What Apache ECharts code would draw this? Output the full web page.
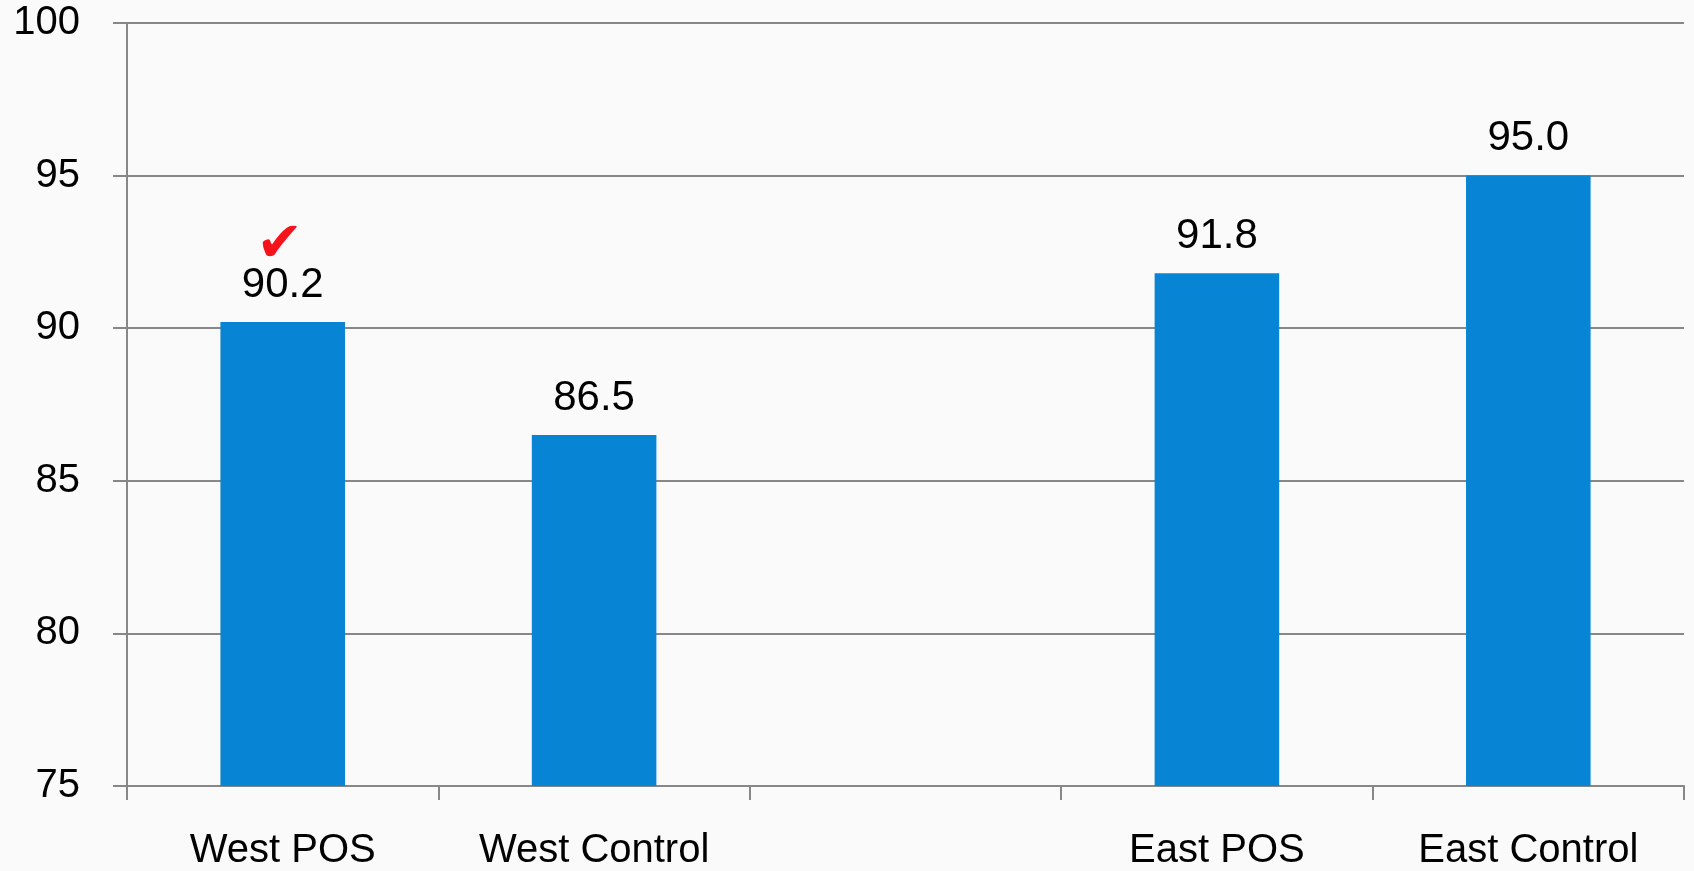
<!DOCTYPE html>
<html>
<head>
<meta charset="utf-8">
<script src="https://cdn.jsdelivr.net/npm/echarts@6/dist/echarts.min.js"></script>
<style>
  html, body { margin: 0; padding: 0; background: #fafafa; }
  #chart { width: 1694px; height: 871px; }
</style>
</head>
<body>
<div id="chart"></div>
<script>
// Categories (the empty slot separates the West and East groups)
const categories = ['West POS', 'West Control', '', 'East POS', 'East Control'];
const scores = [90.2, 86.5, '-', 91.8, 95.0];
const checkedCategory = 'West POS';
const yTicks = { min: 75, max: 100, interval: 5 };

const FONT = 'Liberation Sans';
const chart = echarts.init(document.getElementById('chart'), null, { renderer: 'canvas' });

chart.setOption({
  backgroundColor: '#fafafa',
  animation: false,
  grid: { left: 127, right: 10, top: 23, bottom: 85, containLabel: false },
  xAxis: {
    type: 'category',
    data: categories,
    axisLine: { lineStyle: { color: '#878787', width: 2 } },
    axisTick: { show: true, length: 14, lineStyle: { color: '#878787', width: 2 } },
    axisLabel: { color: '#000', fontFamily: FONT, fontSize: 40, margin: 45, interval: 0 }
  },
  yAxis: {
    type: 'value',
    min: yTicks.min, max: yTicks.max, interval: yTicks.interval,
    axisLine: { show: true, lineStyle: { color: '#878787', width: 2 } },
    axisTick: { show: true, length: 14, lineStyle: { color: '#878787', width: 2 } },
    splitLine: { show: true, lineStyle: { color: '#878787', width: 2 } },
    axisLabel: { color: '#000', fontFamily: FONT, fontSize: 40, margin: 47 }
  },
  series: [{
    type: 'bar',
    data: scores.map((v, i) => ({ value: v, name: categories[i] })),
    barWidth: '40%',
    itemStyle: { color: '#0784d3' },
    label: {
      show: true,
      position: 'top',
      distance: 16,
      fontFamily: FONT,
      fontSize: 42,
      color: '#000',
      formatter: p => {
        const txt = Number(p.value).toFixed(1);
        return p.name === checkedCategory ? '{chk|✔}\n{val|' + txt + '}' : '{val|' + txt + '}';
      },
      rich: {
        val: { fontFamily: FONT, fontSize: 42, color: '#000', lineHeight: 42 },
        chk: { fontFamily: 'DejaVu Sans', fontSize: 56, color: '#f5141c', lineHeight: 36, padding: [0, 6, 0, 0] }
      }
    }
  }]
});
</script>
</body>
</html>
